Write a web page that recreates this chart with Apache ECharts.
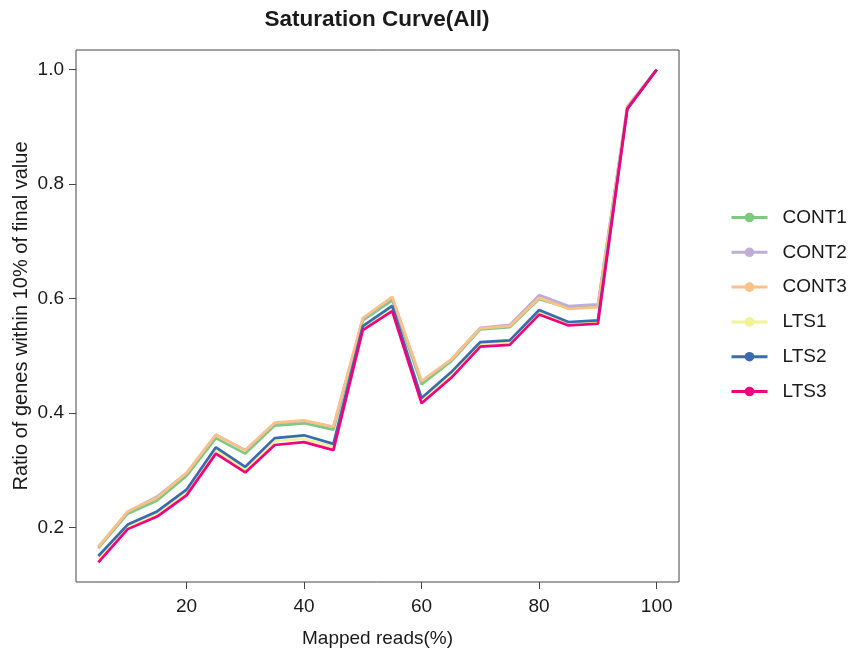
<!DOCTYPE html>
<html>
<head>
<meta charset="utf-8">
<script src="https://cdn.jsdelivr.net/npm/echarts@6/dist/echarts.min.js"></script>
<style>
html,body{margin:0;padding:0;background:#fff;}
#chart{width:851px;height:655px;}
</style>
</head>
<body>
<div id="chart"></div>
<script>
const xValues = [5,10,15,20,25,30,35,40,45,50,55,60,65,70,75,80,85,90,95,100];
const seriesNames = ['CONT1','CONT2','CONT3','LTS1','LTS2','LTS3'];
const seriesColors = ['#7fc97f','#beaed4','#fdc086','#f2f296','#386cb0','#f0027f'];
const CONT1 = [0.164,0.224,0.247,0.290,0.356,0.329,0.378,0.382,0.371,0.562,0.597,0.450,0.490,0.546,0.550,0.599,0.584,0.587,0.933,1.0];
const CONT2 = [0.166,0.227,0.254,0.295,0.362,0.335,0.382,0.386,0.376,0.565,0.602,0.455,0.493,0.549,0.554,0.606,0.587,0.590,0.936,1.0];
const CONT3 = [0.166,0.228,0.252,0.295,0.362,0.335,0.383,0.387,0.376,0.566,0.603,0.456,0.493,0.548,0.552,0.601,0.582,0.585,0.935,1.0];
const LTS1  = [0.145,0.201,0.224,0.262,0.335,0.301,0.351,0.355,0.341,0.549,0.582,0.422,0.467,0.521,0.523,0.576,0.556,0.559,0.932,1.0];
const LTS2  = [0.150,0.205,0.228,0.266,0.340,0.306,0.356,0.361,0.346,0.552,0.587,0.426,0.471,0.524,0.527,0.580,0.559,0.562,0.932,1.0];
const LTS3  = [0.139,0.197,0.219,0.256,0.329,0.296,0.344,0.349,0.335,0.545,0.578,0.417,0.461,0.516,0.519,0.572,0.553,0.556,0.931,1.0];
const xTicks = [20,40,60,80,100];
const yTicks = [0.2,0.4,0.6,0.8,1.0];
const allSeries = [CONT1,CONT2,CONT3,LTS1,LTS2,LTS3];

const FONT = 'Liberation Sans, Arial, Helvetica, sans-serif';
const chart = echarts.init(document.getElementById('chart'), null, {renderer:'canvas'});
const option = {
  animation:false,
  backgroundColor:'#fff',
  title:{
    text:'Saturation Curve(All)',
    left:372, top:3, textAlign:'center',
    textStyle:{fontFamily:FONT,fontSize:22.5,fontWeight:'bold',color:'#1a1a1a'}
  },
  grid:{left:76,right:172,top:50,bottom:73,show:true,borderColor:'#444',borderWidth:1,backgroundColor:'transparent',outerBoundsMode:'none',containLabel:false},
  xAxis:{
    type:'value', min:1.2, max:103.8,
    name:'Mapped reads(%)', nameLocation:'middle', nameGap:47, nameMoveOverlap:false,
    nameTextStyle:{fontFamily:FONT,fontSize:19,color:'#1a1a1a'},
    axisLine:{show:false},
    splitLine:{show:false},
    axisTick:{show:true,inside:false,length:7,lineStyle:{color:'#444'},customValues:xTicks},
    axisLabel:{fontFamily:FONT,fontSize:19,color:'#1a1a1a',margin:15,customValues:xTicks,formatter:v=>String(v)}
  },
  yAxis:{
    type:'value', min:0.1046, max:1.0344,
    name:'Ratio of genes within 10% of final value', nameLocation:'middle', nameGap:45, nameMoveOverlap:false,
    nameTextStyle:{fontFamily:FONT,fontSize:20,color:'#1a1a1a'},
    axisLine:{show:false},
    splitLine:{show:false},
    axisTick:{show:true,inside:false,length:7,lineStyle:{color:'#444'},customValues:yTicks},
    axisLabel:{fontFamily:FONT,fontSize:19,color:'#1a1a1a',margin:12,customValues:yTicks,formatter:v=>v.toFixed(1)}
  },
  legend:{
    orient:'vertical', left:730, top:208, padding:0,
    itemWidth:36, itemHeight:12, itemGap:15.8,
    lineStyle:{width:3},
    textStyle:{fontFamily:FONT,fontSize:19,color:'#1a1a1a',lineHeight:18,padding:[0,0,0,10]},
    data:seriesNames
  },
  series:seriesNames.map((n,i)=>({
    name:n, type:'line',
    data:xValues.map((x,j)=>[x,allSeries[i][j]]),
    showSymbol:false, symbol:'circle', symbolSize:11,
    color:seriesColors[i],
    lineStyle:{width:2.7,color:seriesColors[i]},
    itemStyle:{color:seriesColors[i]},
    z:2+i
  }))
};
chart.setOption(option);
</script>
</body>
</html>
